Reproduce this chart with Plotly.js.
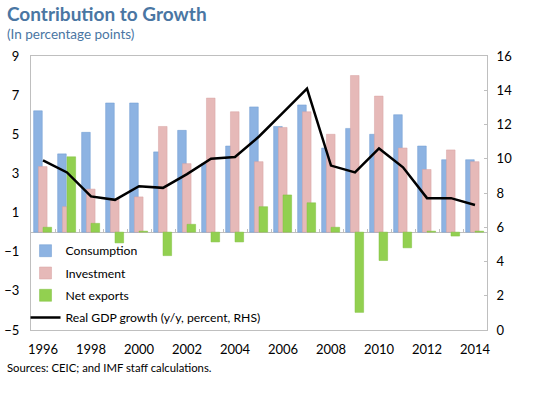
<!DOCTYPE html>
<html>
<head>
<meta charset="utf-8">
<script src="https://cdn.plot.ly/plotly-3.0.1.min.js"></script>
<style>html,body{margin:0;padding:0;background:#fff;}#chart{width:540px;height:393px;}</style>
</head>
<body>
<div id="chart"></div>
<script>
const years = [1996,1997,1998,1999,2000,2001,2002,2003,2004,2005,2006,2007,2008,2009,2010,2011,2012,2013,2014];
const consumption = [6.2,4.0,5.1,6.6,6.6,4.1,5.2,3.5,4.4,6.4,5.4,6.5,4.3,5.3,5.0,6.0,4.4,3.7,3.7];
const investment = [3.35,1.3,2.2,1.7,1.8,5.4,3.5,6.85,6.15,3.6,5.35,6.15,5.0,8.0,6.95,4.3,3.2,4.2,3.6];
const netExports = [0.25,3.85,0.45,-0.55,0.05,-1.2,0.4,-0.5,-0.5,1.3,1.9,1.5,0.25,-4.1,-1.45,-0.8,0.05,-0.2,0.05];
const gdpGrowth = [9.9,9.2,7.8,7.6,8.4,8.3,9.1,10.0,10.1,11.3,12.7,14.1,9.6,9.2,10.6,9.5,7.7,7.7,7.3];
const xTicks = [1996,1998,2000,2002,2004,2006,2008,2010,2012,2014];
const leftTicks = [-5,-3,-1,1,3,5,7,9];
const rightTicks = [0,2,4,6,8,10,12,14,16];

const F = 'Lato, "Open Sans", sans-serif';
const bw = 0.36;
const traces = [
  {type:'bar', name:'Consumption', x:years, y:consumption, width:bw, offset:-0.39,
   marker:{color:'#8DB3E2', line:{color:'#6F9AD0', width:0.5}}, legendgroup:'a'},
  {type:'bar', name:'Investment', x:years, y:investment, width:bw, offset:-0.19,
   marker:{color:'#E6B9B8', line:{color:'#D9A3A2', width:0.5}}, legendgroup:'b'},
  {type:'bar', name:'Net exports', x:years, y:netExports, width:bw, offset:0.0,
   marker:{color:'#92D050', line:{color:'#82C040', width:0.5}}, legendgroup:'c'},
  {type:'scatter', mode:'lines', name:'Real GDP growth (y/y, percent, RHS)', x:years, y:gdpGrowth,
   yaxis:'y2', line:{color:'#000', width:2.5}, legendgroup:'d'},
  {type:'scatter', mode:'markers', x:[1996], y:[null], xaxis:'x2', showlegend:false, hoverinfo:'skip'}
];

const layout = {
  width:540, height:393,
  margin:{l:31, r:53, t:56, b:63},
  paper_bgcolor:'#fff', plot_bgcolor:'#fff',
  barmode:'overlay',
  showlegend:true,
  font:{family:F, size:13, color:'#000'},
  legend:{x:-0.012, y:-0.008, xanchor:'left', yanchor:'bottom', bgcolor:'rgba(0,0,0,0)',
    font:{family:F, size:12.2, color:'#000'}, traceorder:'grouped', tracegroupgap:3.3, itemwidth:30},
  xaxis:{range:[1995.5,2014.5], tickvals:xTicks, ticktext:xTicks.map(String), showgrid:false, zeroline:false,
    showline:true, linecolor:'#BFBFBF', linewidth:1, mirror:true, ticks:'', ticklabelstandoff:7,
    tickfont:{family:F, size:13}},
  xaxis2:{matches:'x', overlaying:'x', anchor:'free', position:5/14, side:'bottom', showgrid:false, zeroline:false,
    showline:false, showticklabels:false, ticks:'inside', ticklen:3, tickcolor:'#BFBFBF',
    tickvals:years.map(v=>v+0.5)},
  yaxis:{range:[-5,9], tickvals:leftTicks, showgrid:false, zeroline:true, zerolinecolor:'#BFBFBF', zerolinewidth:1,
    showline:true, linecolor:'#BFBFBF', linewidth:1, ticks:'', ticklabelstandoff:8, tickfont:{family:F, size:13}},
  yaxis2:{range:[0,16], tickvals:rightTicks, overlaying:'y', side:'right', showgrid:false, zeroline:false,
    showline:true, linecolor:'#BFBFBF', linewidth:1, ticks:'inside', ticklen:3, tickcolor:'#BFBFBF',
    ticklabelstandoff:6, tickfont:{family:F, size:13}},
  annotations:[
    {text:'<b>Contribution to Growth</b>', xref:'paper', yref:'paper', x:-0.05, y:1, xanchor:'left', yanchor:'bottom',
     xshift:-3, yshift:29, showarrow:false, font:{family:F, size:19, color:'#4A76A3'}},
    {text:'(In percentage points)', xref:'paper', yref:'paper', x:-0.05, y:1, xanchor:'left', yanchor:'bottom',
     xshift:-3, yshift:12, showarrow:false, font:{family:F, size:13.5, color:'#4A76A3'}},
    {text:'Sources: CEIC; and IMF staff calculations.', xref:'paper', yref:'paper', x:-0.05, y:0, xanchor:'left', yanchor:'top',
     xshift:-3, yshift:-29, showarrow:false, font:{family:F, size:11.3, color:'#000'}}
  ]
};
Plotly.newPlot('chart', traces, layout, {displayModeBar:false, staticPlot:true});
</script>
</body>
</html>
